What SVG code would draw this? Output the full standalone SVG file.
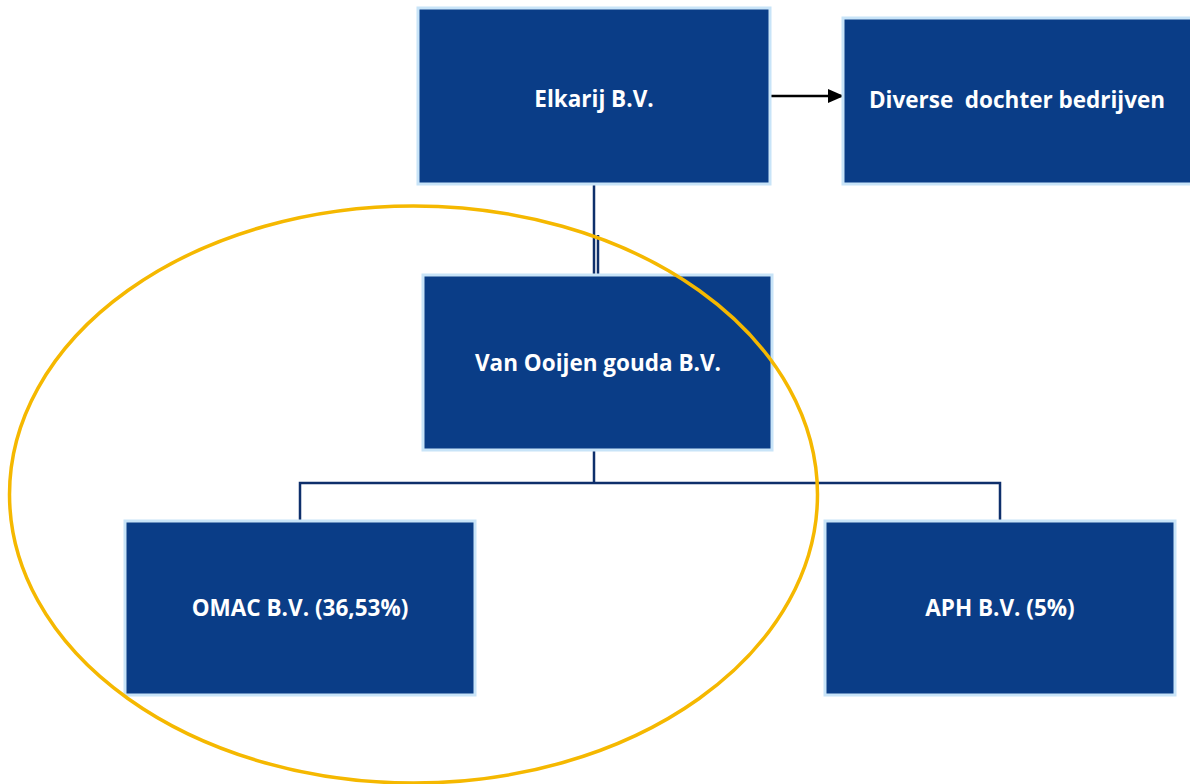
<svg xmlns="http://www.w3.org/2000/svg" width="1190" height="784" viewBox="0 0 1190 784">
<defs>
<style>
.box{fill:#0a3d87;stroke:#c8e4f8;stroke-width:3}
.lbl{fill:#ffffff;font-family:"Open Sans","Liberation Sans",sans-serif;font-weight:bold;font-size:22.5px;text-anchor:middle;white-space:pre}
.con{stroke:#0e2f6b;stroke-width:2.5;fill:none}
</style>
<marker id="ah" markerWidth="16" markerHeight="14" refX="16" refY="7" orient="auto" markerUnits="userSpaceOnUse" viewBox="0 0 16 14">
<path d="M0,0 L16,7 L0,14 z" fill="#000"/>
</marker>
</defs>
<rect width="1190" height="784" fill="#fff"/>
<g id="connectors">
<line class="con" x1="594" y1="185" x2="594" y2="274"/>
<line class="con" x1="598" y1="235" x2="598" y2="274"/>
<polyline class="con" points="594,450 594,483"/>
<polyline class="con" points="300,520 300,483 1000,483 1000,520"/>
<line x1="770" y1="96" x2="844" y2="96" stroke="#000" stroke-width="2.5" marker-end="url(#ah)"/>
</g>
<g id="elkarij"><rect class="box" x="418" y="8" width="352" height="176"/><text class="lbl" x="594" y="107">Elkarij B.V.</text></g>
<g id="diverse"><rect class="box" x="843" y="18" width="350" height="166"/><text class="lbl" x="1017" y="108" xml:space="preserve">Diverse  dochter bedrijven</text></g>
<g id="vanooijen"><rect class="box" x="423" y="275" width="349" height="175"/><text class="lbl" x="598" y="371">Van Ooijen gouda B.V.</text></g>
<g id="omac"><rect class="box" x="125" y="521" width="350" height="174"/><text class="lbl" x="300" y="616">OMAC B.V. (36,53%)</text></g>
<g id="aph"><rect class="box" x="825" y="521" width="350" height="174"/><text class="lbl" x="1000" y="616">APH B.V. (5%)</text></g>
<ellipse id="highlight" cx="413.5" cy="494.5" rx="404" ry="288.5" fill="none" stroke="#f5b800" stroke-width="3.5"/>
</svg>
